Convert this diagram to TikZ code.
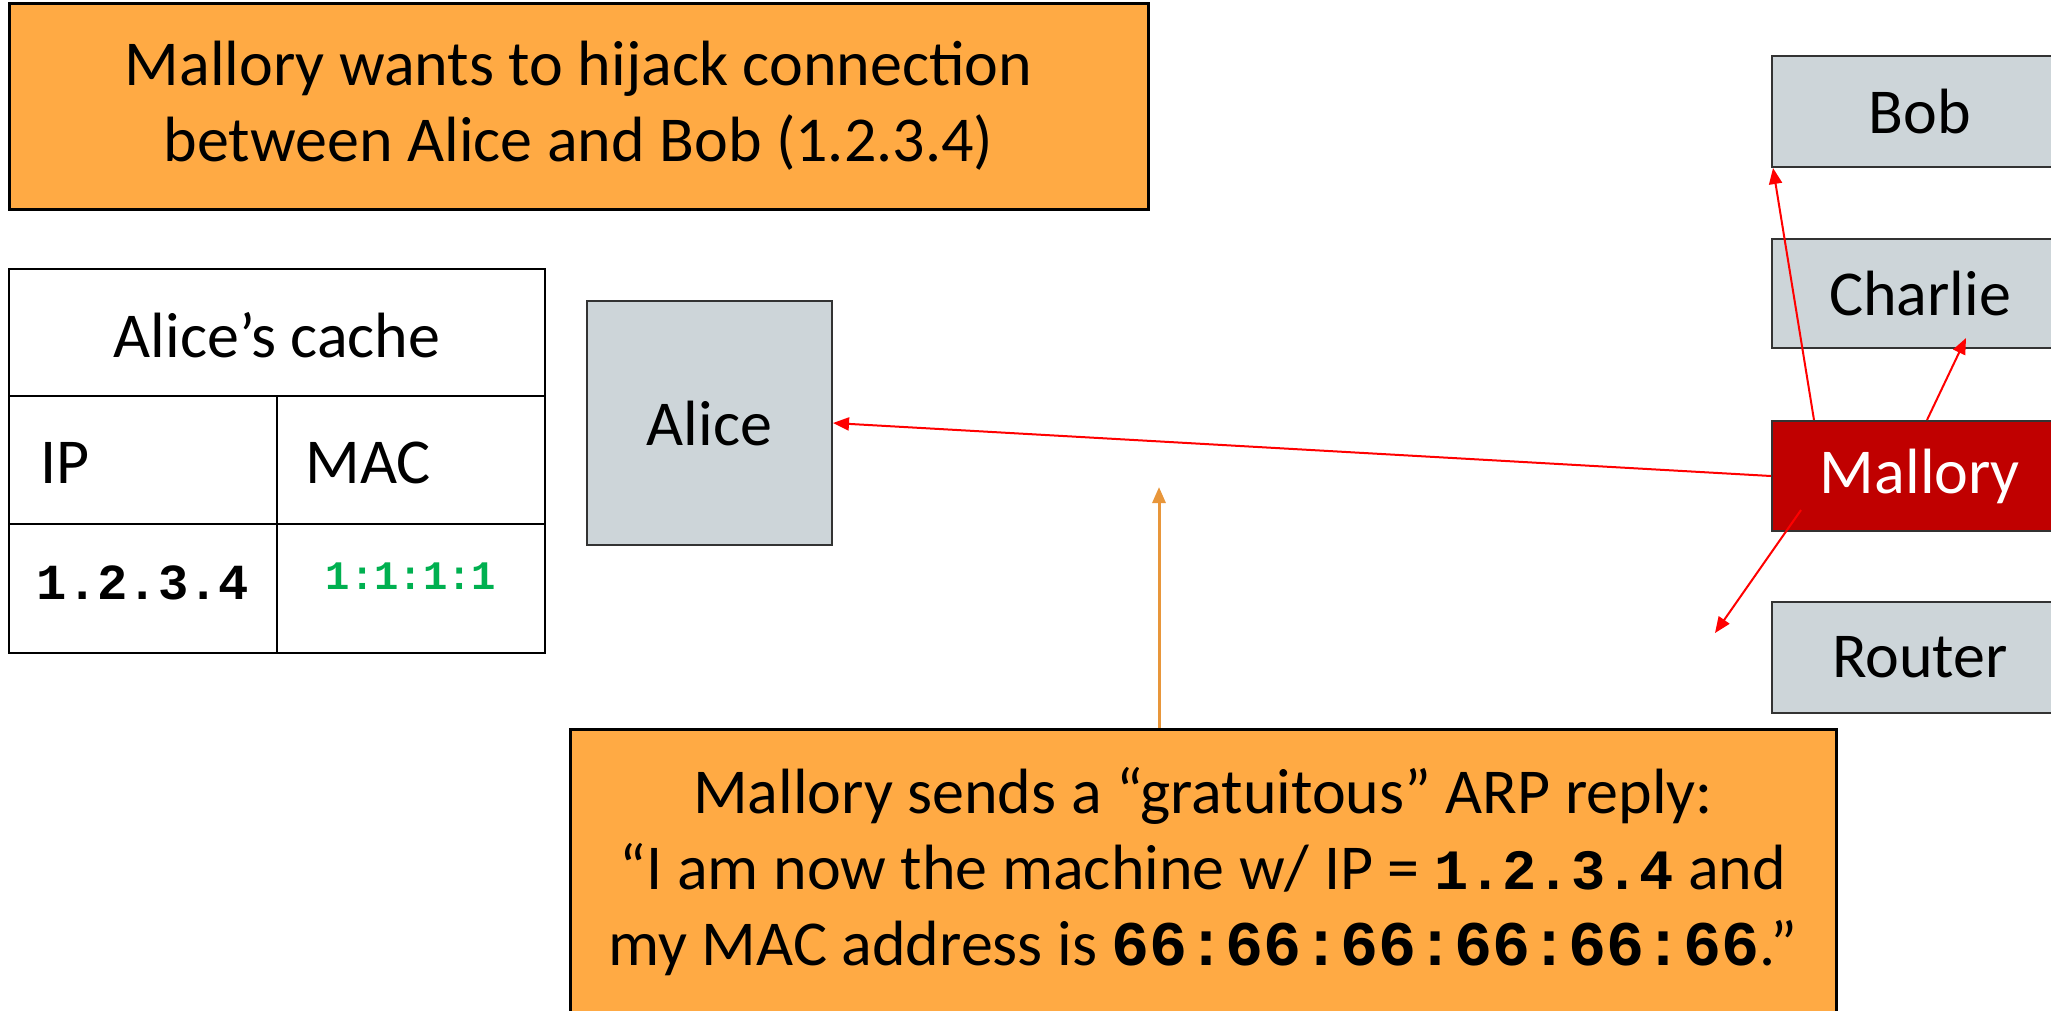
\documentclass[tikz,border=0pt]{standalone}
\usepackage{fontspec}
\setmainfont{Carlito}
\newfontfamily\monofont{Liberation Mono}
\usetikzlibrary{arrows.meta,calc}
\definecolor{orangefill}{HTML}{FFAA44}
\definecolor{grayfill}{HTML}{CDD5D9}
\definecolor{mallred}{HTML}{C00000}
\definecolor{arrred}{HTML}{FF0000}
\definecolor{arrorange}{HTML}{E8963A}
\definecolor{macgreen}{HTML}{00B050}
\newcommand{\bigtxt}{\fontsize{64}{76}\selectfont}
\newcommand{\ipmono}[1]{{\monofont\bfseries\fontsize{57}{76}\selectfont #1}}
\newcommand{\macmono}[1]{{\monofont\bfseries\fontsize{63.5}{76}\selectfont #1}}
\tikzset{
  callout/.style={draw=black, line width=3pt, fill=orangefill, inner sep=0pt, align=center, font=\bigtxt},
  host/.style={draw=black!80, line width=2pt, fill=grayfill, inner sep=0pt, font=\bigtxt},
  attacker/.style={draw=black!80, line width=2pt, fill=mallred, text=white, inner sep=0pt, font=\bigtxt},
  cell/.style={draw=black, line width=2pt, inner sep=0pt},
  redarrow/.style={draw=arrred, line width=2pt, -{Triangle[length=16pt,width=13pt]}},
  orangearrow/.style={draw=arrorange, line width=3pt, -{Triangle[length=16pt,width=13pt]}}
}
\begin{document}
\begin{tikzpicture}[x=1pt,y=-1pt]
\useasboundingbox[fill=white] (0,0) rectangle (2051,1010);

% top callout
\node[callout, minimum width=1139pt, minimum height=206pt] (goal) at (578.5,106)
  {Mallory wants to hijack connection\\between Alice and Bob (1.2.3.4)};

% Alice's cache table
\node[cell, minimum width=536pt, minimum height=127pt] (hdr) at (277,332.5) {};
\node[font=\bigtxt] (hdrtxt) at ($(hdr.center)+(0,3)$) {Alice’s cache};
\node[cell, minimum width=268pt, minimum height=128pt] (ipcell) at (143,460) {};
\node[cell, minimum width=268pt, minimum height=128pt] (maccell) at (411,460) {};
\node[cell, minimum width=268pt, minimum height=129pt] (ipval) at (143,588.5) {};
\node[cell, minimum width=268pt, minimum height=129pt] (macval) at (411,588.5) {};
\node[font=\bigtxt, anchor=west] (iptxt) at ($(ipcell.west)+(29,3)$) {IP};
\node[font=\bigtxt, anchor=west] (mactxt) at ($(maccell.west)+(26,3)$) {MAC};
\node (ipvaltxt) at ($(ipval.center)+(0,-6)$) {{\monofont\bfseries\fontsize{50.5}{60}\selectfont 1.2.3.4}};
\node[text=macgreen] (macvaltxt) at ($(macval.center)+(0,-12)$) {{\monofont\bfseries\fontsize{40.5}{50}\selectfont 1:1:1:1}};

% hosts
\node[host, minimum width=245pt, minimum height=244pt] (alice) at (709.5,423) {Alice};
\node[host, minimum width=296pt, minimum height=111pt] (bob) at (1920,111.5) {Bob};
\node[host, minimum width=296pt, minimum height=109pt] (charlie) at (1920,293.5) {Charlie};
\node[attacker, minimum width=296pt, minimum height=110pt] (mallory) at (1920,476) {Mallory};
\node[host, minimum width=296pt, minimum height=111pt] (router) at (1920,657.5) {Router};
\coordinate (away) at (1715,633);

% bottom callout
\node[callout, minimum width=1266pt, minimum height=286pt] (reply) at (1203,872)
  {Mallory sends a “gratuitous” ARP reply:\\
   “I am now the machine w/ IP = \ipmono{1.2.3.4} and\\
   my MAC address is \macmono{66:66:66:66:66:66}.”};
\coordinate (replytip) at (1159,487);

% arrows
\draw[redarrow] (mallory.west) -- (alice.east);
\draw[redarrow] ($(mallory.north west)+(43,0)$) -- ($(bob.south west)+(2,0)$);
\draw[redarrow] ($(mallory.north west)+(156,0)$) -- ($(charlie.south west)+(195,-11)$);
\draw[redarrow] ($(mallory.west)+(30,34)$) -- (away);
\draw[orangearrow] (reply.north -| replytip) -- (replytip);
\end{tikzpicture}
\end{document}
